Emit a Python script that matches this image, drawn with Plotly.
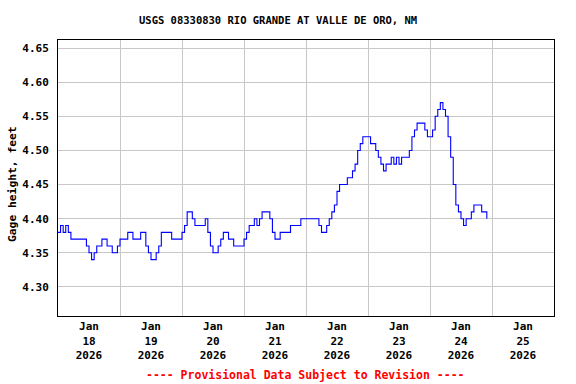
import pandas as pd
import plotly.graph_objects as go

# Hourly gage height (feet), starting 2026-01-18 00:00
jan18 = [4.38, 4.39, 4.38, 4.39, 4.38, 4.37, 4.37, 4.37, 4.37, 4.37, 4.37, 4.36,
         4.35, 4.34, 4.35, 4.36, 4.36, 4.37, 4.37, 4.36, 4.36, 4.35, 4.35, 4.36]
jan19 = [4.37, 4.37, 4.37, 4.38, 4.38, 4.37, 4.37, 4.37, 4.38, 4.38, 4.36, 4.35,
         4.34, 4.34, 4.35, 4.36, 4.38, 4.38, 4.38, 4.38, 4.37, 4.37, 4.37, 4.37]
jan20 = [4.38, 4.39, 4.41, 4.41, 4.40, 4.39, 4.39, 4.39, 4.39, 4.40, 4.38, 4.36,
         4.35, 4.35, 4.36, 4.37, 4.38, 4.38, 4.37, 4.37, 4.36, 4.36, 4.36, 4.36]
jan21 = [4.37, 4.38, 4.39, 4.39, 4.40, 4.39, 4.40, 4.41, 4.41, 4.41, 4.40, 4.38,
         4.37, 4.37, 4.38, 4.38, 4.38, 4.38, 4.39, 4.39, 4.39, 4.39, 4.40, 4.40]
jan22 = [4.40, 4.40, 4.40, 4.40, 4.40, 4.39, 4.38, 4.38, 4.39, 4.40, 4.41, 4.42,
         4.44, 4.45, 4.45, 4.45, 4.46, 4.46, 4.47, 4.48, 4.50, 4.51, 4.52, 4.52]
jan23 = [4.52, 4.51, 4.51, 4.50, 4.49, 4.48, 4.47, 4.48, 4.48, 4.49, 4.48, 4.49,
         4.48, 4.49, 4.49, 4.49, 4.50, 4.52, 4.53, 4.54, 4.54, 4.54, 4.53, 4.52]
jan24 = [4.52, 4.53, 4.55, 4.56, 4.57, 4.56, 4.55, 4.52, 4.49, 4.45, 4.42, 4.41,
         4.40, 4.39, 4.40, 4.40, 4.41, 4.42, 4.42, 4.42, 4.41, 4.41, 4.40]

values = jan18 + jan19 + jan20 + jan21 + jan22 + jan23 + jan24
times = pd.date_range("2026-01-18 00:00", periods=len(values), freq="h")

y_ticks = [4.30, 4.35, 4.40, 4.45, 4.50, 4.55, 4.60, 4.65]
title_text = "USGS 08330830 RIO GRANDE AT VALLE DE ORO, NM"
y_title = "Gage height, feet"
footer = "---- Provisional Data Subject to Revision ----"

FONT = "DejaVu Sans Mono"

fig = go.Figure()
fig.add_trace(go.Scatter(x=times, y=values, mode="lines", line_shape="hv",
                         line=dict(color="#0000ff", width=1.1),
                         hoverinfo="skip", showlegend=False))

fig.update_layout(
    width=576, height=384,
    margin=dict(l=58, r=22, t=40, b=68, autoexpand=False),
    paper_bgcolor="white", plot_bgcolor="white",
    font=dict(family=FONT, color="black"),
    showlegend=False,
)

fig.update_xaxes(
    range=["2026-01-18 00:00", "2026-01-26 00:00"],
    type="date",
    dtick=86400000,
    tick0="2026-01-18",
    ticklabelmode="period",
    tickformat="%b<br>%d<br>%Y",
    tickfont=dict(family=FONT, size=11, weight="bold", color="black"),
    ticks="",
    showgrid=True, gridcolor="#c8c8c8", gridwidth=1,
    showline=True, linecolor="black", linewidth=1, mirror=True,
    zeroline=False, automargin=False,
)
fig.update_yaxes(
    range=[4.2574, 4.6618],
    tickvals=y_ticks,
    ticktext=[f"{v:.2f}" for v in y_ticks],
    tickfont=dict(family=FONT, size=11, weight="bold", color="black"),
    ticks="",
    ticklabelstandoff=6,
    showgrid=True, gridcolor="#c8c8c8", gridwidth=1,
    showline=True, linecolor="black", linewidth=1, mirror=True,
    zeroline=False, automargin=False,
)

fig.add_annotation(text=title_text, xref="paper", yref="paper",
                   x=(277.5 - 58) / 496, y=1 + 20 / 276,
                   xanchor="center", yanchor="middle", showarrow=False,
                   font=dict(family=FONT, size=10.5, weight="bold", color="black"))
fig.add_annotation(text=y_title, xref="paper", yref="paper",
                   x=(12 - 58) / 496, y=(316 - 184) / 276, textangle=-90,
                   xanchor="center", yanchor="middle", showarrow=False,
                   font=dict(family=FONT, size=11.3, weight="bold", color="black"))
fig.add_annotation(text=footer, xref="paper", yref="paper",
                   x=(305 - 58) / 496, y=(316 - 375) / 276,
                   xanchor="center", yanchor="middle", showarrow=False,
                   font=dict(family=FONT, size=11.5, weight="bold", color="#ff0000"))

fig.write_html("out.html",
               config={"displayModeBar": False},
               post_script="document.body.style.margin='0';document.body.style.padding='0';")
